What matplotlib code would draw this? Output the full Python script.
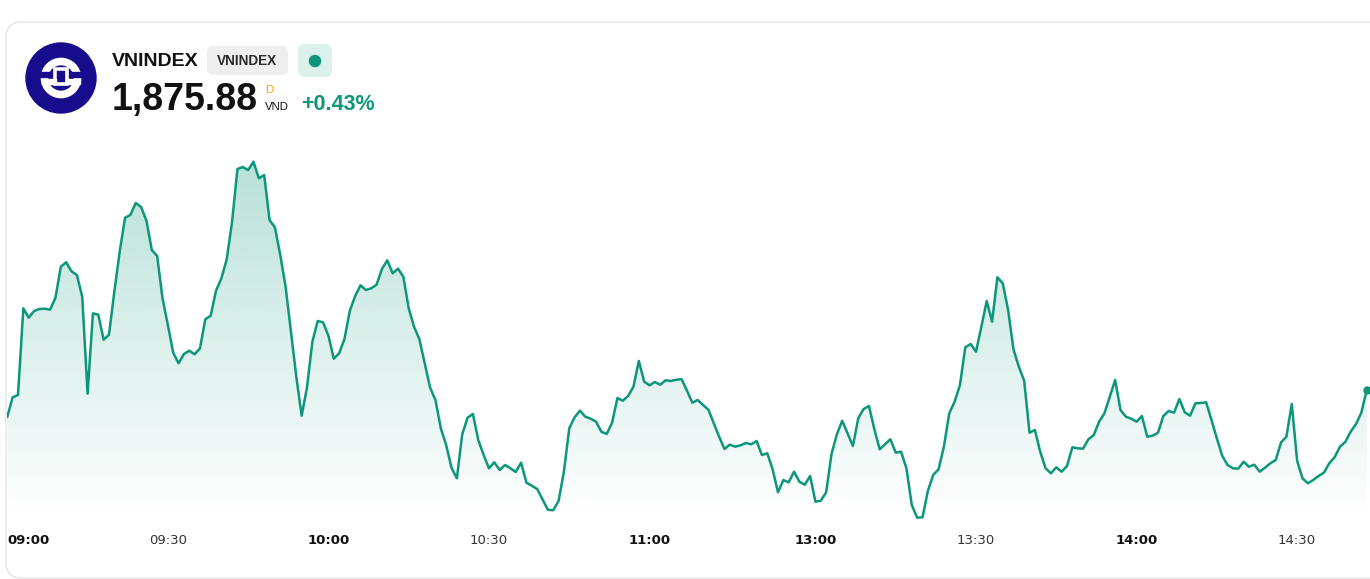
import matplotlib.pyplot as plt
import numpy as np
import pandas as pd
from matplotlib.colors import to_rgb
from matplotlib.patches import FancyBboxPatch, Circle, Rectangle

symbol = "VNINDEX"
last_price = 1875.88
change_pct = 0.43
currency = "VND"

# one close per minute: 09:00-11:30, then 13:00 onwards
prices = [
    1873.21, 1875.15, 1875.38, 1884.05, 1883.11, 1883.78, 1883.98, 1884.01, 1883.91, 1885.11,
    1888.21, 1888.65, 1887.75, 1887.38, 1885.21, 1875.51, 1883.55, 1883.41, 1880.91, 1881.41,
    1885.71, 1889.71, 1893.11, 1893.38, 1894.58, 1894.18, 1892.81, 1889.88, 1889.28, 1885.05,
    1882.38, 1879.61, 1878.55, 1879.48, 1879.81, 1879.45, 1880.05, 1882.95, 1883.31, 1885.81,
    1887.05, 1888.95, 1892.71, 1897.98, 1898.18, 1897.88, 1898.71, 1897.05, 1897.38, 1892.88,
    1892.15, 1889.38, 1886.21, 1881.71, 1877.21, 1873.31, 1876.15, 1880.71, 1882.78, 1882.65,
    1881.31, 1879.01, 1879.55, 1880.98, 1883.81, 1885.28, 1886.35, 1885.88, 1886.05, 1886.41,
    1887.98, 1888.85, 1887.55, 1888.01, 1887.21, 1884.05, 1882.21, 1880.95, 1878.55, 1876.11,
    1874.88, 1872.05, 1870.38, 1868.10, 1867.05, 1871.45, 1873.11, 1873.48, 1870.88, 1869.38,
    1868.05, 1868.65, 1867.88, 1868.38, 1868.05, 1867.68, 1868.61, 1866.61, 1866.31, 1865.98,
    1864.95, 1863.91, 1863.85, 1864.78, 1867.71, 1872.05, 1873.15, 1873.81, 1873.21, 1873.01,
    1872.71, 1871.71, 1871.48, 1872.61, 1875.08, 1874.81, 1875.28, 1876.21, 1878.78, 1876.71,
    1876.35, 1876.68, 1876.41, 1876.85, 1876.78, 1876.91, 1876.95, 1875.81, 1874.61, 1874.88,
    1874.38, 1873.91, 1872.55, 1871.21, 1869.98, 1870.41, 1870.21, 1870.35, 1870.58, 1870.45,
    1870.78, 1869.38, 1869.55, 1867.95, 1865.65, 1866.88, 1866.65, 1867.71, 1866.71, 1866.41,
    1867.28, 1864.71, 1864.81, 1865.65, 1869.48, 1871.45, 1872.81, 1871.55, 1870.28, 1873.05,
    1873.98, 1874.28, 1871.98, 1869.95, 1870.45, 1870.95, 1869.61, 1869.71, 1868.05, 1864.38,
    1863.11, 1863.15, 1865.78, 1867.38, 1867.95, 1870.21, 1873.55, 1874.71, 1876.38, 1880.15,
    1880.48, 1879.71, 1882.21, 1884.78, 1882.71, 1887.15, 1886.55, 1883.88, 1879.95, 1878.21,
    1876.81, 1871.61, 1871.88, 1869.71, 1868.05, 1867.55, 1868.15, 1867.71, 1868.28, 1870.15,
    1870.05, 1870.01, 1870.95, 1871.38, 1872.71, 1873.55, 1875.21, 1876.88, 1873.88, 1873.21,
    1873.01, 1872.71, 1873.28, 1871.21, 1871.31, 1871.61, 1873.28, 1873.78, 1873.61, 1874.98,
    1873.65, 1873.31, 1874.55, 1874.58, 1874.65, 1872.88, 1871.05, 1869.31, 1868.38, 1868.05,
    1868.01, 1868.71, 1868.21, 1868.41, 1867.71, 1868.11, 1868.55, 1868.88, 1870.65, 1871.21,
    1874.48, 1868.81, 1867.05, 1866.55, 1866.88, 1867.28, 1867.61, 1868.55, 1869.15, 1870.21,
    1870.68, 1871.71, 1872.48, 1873.61, 1875.88,
]

morning = pd.date_range("2024-01-01 09:00", "2024-01-01 11:30", freq="min")
afternoon = pd.date_range("2024-01-01 13:00", periods=len(prices) - len(morning), freq="min")
times = [t.strftime("%H:%M") for t in morning.append(afternoon)]
tick_labels = ["09:00", "09:30", "10:00", "10:30", "11:00", "13:00", "13:30", "14:00", "14:30"]

W, H = 1370, 579
green = "#0c977b"
head_font = "Liberation Sans"

fig = plt.figure(figsize=(W / 100, H / 100), dpi=100)

# header / card layer in pixel coordinates
bg = fig.add_axes([0, 0, 1, 1], zorder=0)
bg.set_xlim(0, W)
bg.set_ylim(H, 0)
bg.axis("off")
bg.add_patch(FancyBboxPatch((6, 22), W + 40, 556, boxstyle="round,pad=0,rounding_size=16",
                            fc="white", ec="#e4e4e4", lw=1))

# logo
bg.add_patch(Circle((61, 78), 35, color="#170c8b"))
bg.add_patch(Circle((61, 78), 16.5, fill=False, ec="white", lw=5.5))
bg.add_patch(Rectangle((40, 71.5), 42, 5, color="#170c8b"))
bg.add_patch(Rectangle((42, 79), 14, 5, color="white"))
bg.add_patch(Rectangle((66, 79), 14, 5, color="white"))
bg.add_patch(Rectangle((55, 69), 12, 15, fill=False, ec="white", lw=2.6))

bg.text(112, 61, symbol, fontsize=14, fontweight="bold", color="#111111",
        ha="left", va="center", family=head_font)
bg.add_patch(FancyBboxPatch((207, 46), 81, 29, boxstyle="round,pad=0,rounding_size=6",
                            fc="#efefef", ec="none"))
bg.text(247.5, 61, symbol, fontsize=9.8, fontweight="bold", color="#2a2a2a",
        ha="center", va="center", family=head_font)
bg.add_patch(FancyBboxPatch((298, 44), 34, 33, boxstyle="round,pad=0,rounding_size=7",
                            fc="#dcf1ec", ec="none"))
bg.add_patch(Circle((315, 61), 5.5, color=green))

bg.text(112, 100, f"{last_price:,.2f}", fontsize=27, fontweight="bold", color="#111111",
        ha="left", va="center", family=head_font)
bg.text(265, 90, "D", fontsize=8.2, color="#f59e0b", ha="left", va="center", family=head_font)
bg.text(265, 107, currency, fontsize=8.2, color="#111111", ha="left", va="center", family=head_font)
bg.text(301, 104.5, f"+{change_pct:.2f}%", fontsize=15.5, fontweight="bold", color=green,
        ha="left", va="center", family=head_font)

# price chart
x = np.arange(len(prices))
y_lo, y_hi = 1862.88, 1899.88
ax = fig.add_axes([7.3 / W, (H - 520) / H, (1366.7 - 7.3) / W, 370 / H], zorder=1)
ax.patch.set_alpha(0)

area = ax.fill_between(x, prices, y_lo, color="none", lw=0)
grad = np.zeros((256, 1, 4))
grad[..., :3] = to_rgb(green)
grad[..., 3] = np.linspace(0.0, 0.3, 256).reshape(-1, 1)
im = ax.imshow(grad, extent=[0, len(x) - 1, y_lo, y_hi], origin="lower", aspect="auto", zorder=1)
im.set_clip_path(area.get_paths()[0], transform=ax.transData)

ax.plot(x, prices, color=green, lw=1.8, solid_joinstyle="round", zorder=2)
ax.plot(x[-1], prices[-1], "o", color=green, ms=5, zorder=3, clip_on=False)

ax.set_xlim(0, len(x) - 1)
ax.set_ylim(y_lo, y_hi)
for s in ax.spines.values():
    s.set_visible(False)
ax.set_yticks([])
ax.set_xticks([times.index(t) for t in tick_labels], tick_labels)
ax.tick_params(axis="x", length=0, pad=10)
for i, lab in enumerate(ax.get_xticklabels()):
    lab.set_fontsize(9.5)
    if lab.get_text().endswith(":00"):
        lab.set_fontweight("bold")
        lab.set_color("#111111")
    else:
        lab.set_color("#333333")
    if i == 0:
        lab.set_horizontalalignment("left")

fig.savefig("out.png", dpi=100)
